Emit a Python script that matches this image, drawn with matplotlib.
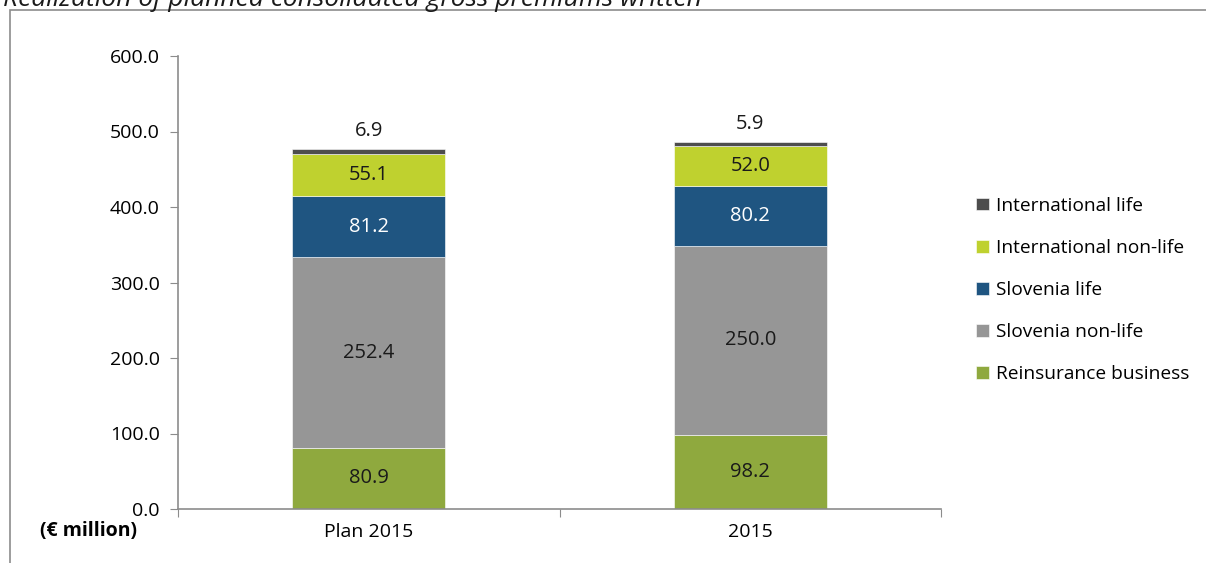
import matplotlib.pyplot as plt
from matplotlib.patches import Rectangle

plt.rcParams['font.family'] = ['Open Sans', 'DejaVu Sans']

categories = ["Plan 2015", "2015"]
series_names = ["Reinsurance business", "Slovenia non-life", "Slovenia life",
                "International non-life", "International life"]
reinsurance = [80.9, 98.2]
slovenia_nonlife = [252.4, 250.0]
slovenia_life = [81.2, 80.2]
intl_nonlife = [55.1, 52.0]
intl_life = [6.9, 5.9]

colors = ["#8fa93e", "#969696", "#1f5581", "#bfd12f", "#4d4d4d"]
label_colors = ["#1a1a1a", "#1a1a1a", "white", "#1a1a1a", "#1a1a1a"]

fig = plt.figure(figsize=(12.06, 5.63), dpi=100)
ax = fig.add_axes([178 / 1206, 1 - 509 / 563, (941 - 178) / 1206, (509 - 56) / 563])

# frame around the chart
fig.patches.append(Rectangle((10 / 1206, -0.1), 1.2, (1 - 10 / 563) + 0.1,
                             transform=fig.transFigure, fill=False,
                             edgecolor="#8c8c8c", linewidth=1.2))

fig.text(3 / 1206, 1 + 1 / 563, "Realization of planned consolidated gross premiums written",
         fontsize=19, style="italic", va="center", ha="left", color="#1a1a1a")

x = list(range(len(categories)))
all_series = [reinsurance, slovenia_nonlife, slovenia_life, intl_nonlife, intl_life]
bottom = [0.0] * len(categories)
handles = []
for vals, name, col, lc in zip(all_series, series_names, colors, label_colors):
    bars = ax.bar(x, vals, 0.4, bottom=bottom, color=col, label=name,
                  edgecolor="white", linewidth=0.4)
    handles.append(bars)
    for i, v in enumerate(vals):
        if name == "International life":
            ax.text(x[i], bottom[i] + v + 24, f"{v:.1f}", ha="center", va="center",
                    fontsize=14.5, color=lc)
        else:
            ax.text(x[i], bottom[i] + v / 2, f"{v:.1f}", ha="center", va="center",
                    fontsize=14.5, color=lc)
    bottom = [b + v for b, v in zip(bottom, vals)]

ax.set_xlim(-0.5, 1.5)
ax.set_ylim(0, 600)
ax.set_yticks(range(0, 601, 100))
ax.set_yticklabels([f"{t:.1f}" for t in range(0, 601, 100)], fontsize=14)
ax.set_xticks([-0.5, 0.5, 1.5])
ax.set_xticklabels([])
ax.set_xticks(x, minor=True)
ax.set_xticklabels(categories, minor=True, fontsize=14)
ax.tick_params(axis="x", which="minor", length=0, pad=10)
ax.tick_params(axis="x", which="major", length=6, color="#8c8c8c", direction="out")
ax.tick_params(axis="y", length=6, color="#8c8c8c", pad=7)

for s in ["top", "right"]:
    ax.spines[s].set_visible(False)
for s in ["left", "bottom"]:
    ax.spines[s].set_color("#8c8c8c")
    ax.spines[s].set_linewidth(1.2)

fig.text(40 / 1206, 1 - 531 / 563, "(€ million)", fontsize=14, fontweight="bold",
         va="center", ha="left")

ax.legend(handles[::-1], series_names[::-1], loc="center left",
          bbox_to_anchor=(959 / 1206, 1 - 290 / 563), bbox_transform=fig.transFigure,
          frameon=False, fontsize=13.8, handlelength=0.65, handleheight=0.65,
          handletextpad=0.4, labelspacing=1.26)

fig.savefig("out.png", dpi=100)
